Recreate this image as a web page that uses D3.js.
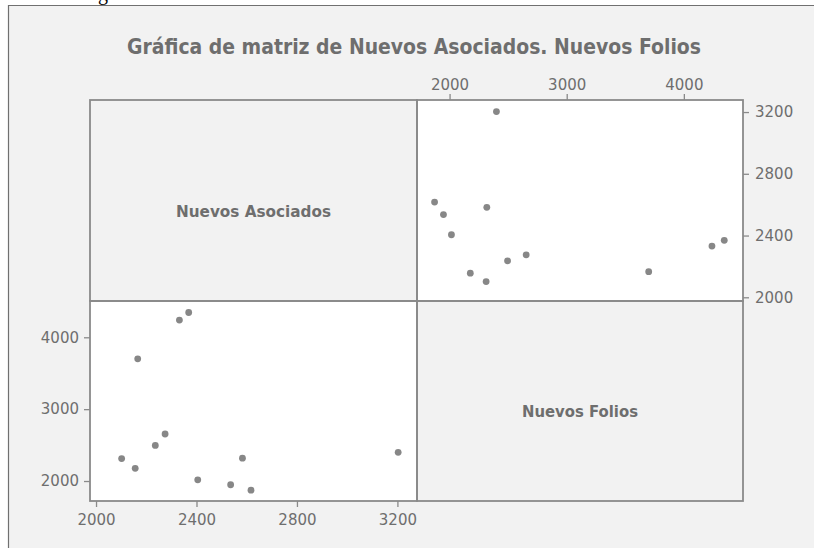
<!DOCTYPE html>
<html>
<head>
<meta charset="utf-8">
<script src="https://cdn.jsdelivr.net/npm/d3@7/dist/d3.min.js"></script>
<style>
  html, body { margin: 0; padding: 0; background: #ffffff; }
  svg { display: block; }
</style>
</head>
<body>
<svg id="chart" width="814" height="548"></svg>
<script>
// ---- data ----
const variables = ["Nuevos Asociados", "Nuevos Folios"];
const nuevosAsociados = [1872, 1948, 2016, 2318, 2400, 2177, 2312, 2495, 2654, 3700, 4240, 4345];
const nuevosFolios    = [2617, 2536, 2405, 2583, 3203, 2156, 2102, 2236, 2275, 2166, 2332, 2369];
const asociadosTicks = [2000, 3000, 4000];
const foliosTicks = [2000, 2400, 2800, 3200];
const titleText = "Gráfica de matriz de Nuevos Asociados. Nuevos Folios";

(function () {
// ---- layout ----
const svg = d3.select("#chart");
const W = 814, H = 548;
const pLeft = 90, midX = 417, pRight = 743;
const pTop = 100, midY = 301, pBottom = 501;
const gray = "#8a8a8a";
const textGray = "#6e6e6e";
const font = "'DejaVu Sans', Verdana, sans-serif";

// page background + outer frame
svg.append("rect").attr("x", 0).attr("y", 0).attr("width", W).attr("height", H).attr("fill", "#ffffff");
svg.append("rect").attr("x", 8).attr("y", 5).attr("width", W - 8).attr("height", H - 5).attr("fill", "#f2f2f2");
svg.append("line").attr("x1", 8).attr("x2", W).attr("y1", 5.5).attr("y2", 5.5).attr("stroke", "#707070").attr("stroke-width", 1.2);
svg.append("line").attr("x1", 8.5).attr("x2", 8.5).attr("y1", 5).attr("y2", H).attr("stroke", "#707070").attr("stroke-width", 1.2);

// cut-off glyph at the very top (as in the reference)
svg.append("text").attr("x", 98).attr("y", -0.5).attr("font-family", "'Liberation Serif', serif")
  .attr("font-size", 20).attr("fill", "#000").text("g");

// title
svg.append("text").attr("x", 414).attr("y", 54).attr("text-anchor", "middle")
  .attr("font-family", font).attr("font-weight", "bold").attr("font-size", 21)
  .attr("fill", textGray).attr("textLength", 574).attr("lengthAdjust", "spacingAndGlyphs")
  .text(titleText);

// scales
const xAsoc = d3.scaleLinear().domain([1722, 4505]).range([midX, pRight]);
const yFol = d3.scaleLinear().domain([1976, 3278]).range([midY, pTop]);
const xFol = d3.scaleLinear().domain([1976, 3278]).range([pLeft, midX]);
const yAsoc = d3.scaleLinear().domain([1722, 4505]).range([pBottom, midY]);

// panels
const panels = [
  {x: pLeft, y: pTop, w: midX - pLeft, h: midY - pTop, fill: "#f2f2f2"},
  {x: midX, y: pTop, w: pRight - midX, h: midY - pTop, fill: "#ffffff"},
  {x: pLeft, y: midY, w: midX - pLeft, h: pBottom - midY, fill: "#ffffff"},
  {x: midX, y: midY, w: pRight - midX, h: pBottom - midY, fill: "#f2f2f2"}
];
svg.append("g").selectAll("rect").data(panels).join("rect")
  .attr("x", d => d.x).attr("y", d => d.y).attr("width", d => d.w).attr("height", d => d.h)
  .attr("fill", d => d.fill);

// diagonal labels
svg.append("text").attr("x", (pLeft + midX) / 2).attr("y", 217).attr("text-anchor", "middle")
  .attr("font-family", font).attr("font-weight", "bold").attr("font-size", 15)
  .attr("fill", textGray).attr("textLength", 155).attr("lengthAdjust", "spacingAndGlyphs")
  .text(variables[0]);
svg.append("text").attr("x", (midX + pRight) / 2).attr("y", 417).attr("text-anchor", "middle")
  .attr("font-family", font).attr("font-weight", "bold").attr("font-size", 15)
  .attr("fill", textGray).attr("textLength", 116).attr("lengthAdjust", "spacingAndGlyphs")
  .text(variables[1]);

const pts = nuevosAsociados.map((a, i) => ({a, f: nuevosFolios[i]}));

// top-right scatter: x = Asociados, y = Folios
svg.append("g").selectAll("circle").data(pts).join("circle")
  .attr("cx", d => xAsoc(d.a)).attr("cy", d => yFol(d.f)).attr("r", 3.4).attr("fill", "#878787");
// bottom-left scatter: x = Folios, y = Asociados
svg.append("g").selectAll("circle").data(pts).join("circle")
  .attr("cx", d => xFol(d.f)).attr("cy", d => yAsoc(d.a)).attr("r", 3.4).attr("fill", "#878787");

// axes
function styleAxis(g) {
  g.select(".domain").remove();
  g.selectAll(".tick line").attr("stroke", gray).attr("stroke-width", 1.3);
  g.selectAll(".tick text").attr("fill", textGray).attr("font-family", font).attr("font-size", 15);
}
svg.append("g").attr("transform", `translate(0,${pTop})`)
  .call(d3.axisTop(xAsoc).tickValues(asociadosTicks).tickFormat(d3.format("d")).tickSize(6).tickPadding(4))
  .call(styleAxis);
svg.append("g").attr("transform", `translate(${pRight},0)`)
  .call(d3.axisRight(yFol).tickValues(foliosTicks).tickFormat(d3.format("d")).tickSize(6).tickPadding(6))
  .call(styleAxis);
svg.append("g").attr("transform", `translate(0,${pBottom})`)
  .call(d3.axisBottom(xFol).tickValues(foliosTicks).tickFormat(d3.format("d")).tickSize(6).tickPadding(7))
  .call(styleAxis);
svg.append("g").attr("transform", `translate(${pLeft},0)`)
  .call(d3.axisLeft(yAsoc).tickValues(asociadosTicks).tickFormat(d3.format("d")).tickSize(6).tickPadding(5))
  .call(styleAxis);

// panel borders
svg.append("g").selectAll("rect").data(panels).join("rect")
  .attr("x", d => d.x).attr("y", d => d.y).attr("width", d => d.w).attr("height", d => d.h)
  .attr("fill", "none").attr("stroke", gray).attr("stroke-width", 1.8);
})();
</script>
</body>
</html>
